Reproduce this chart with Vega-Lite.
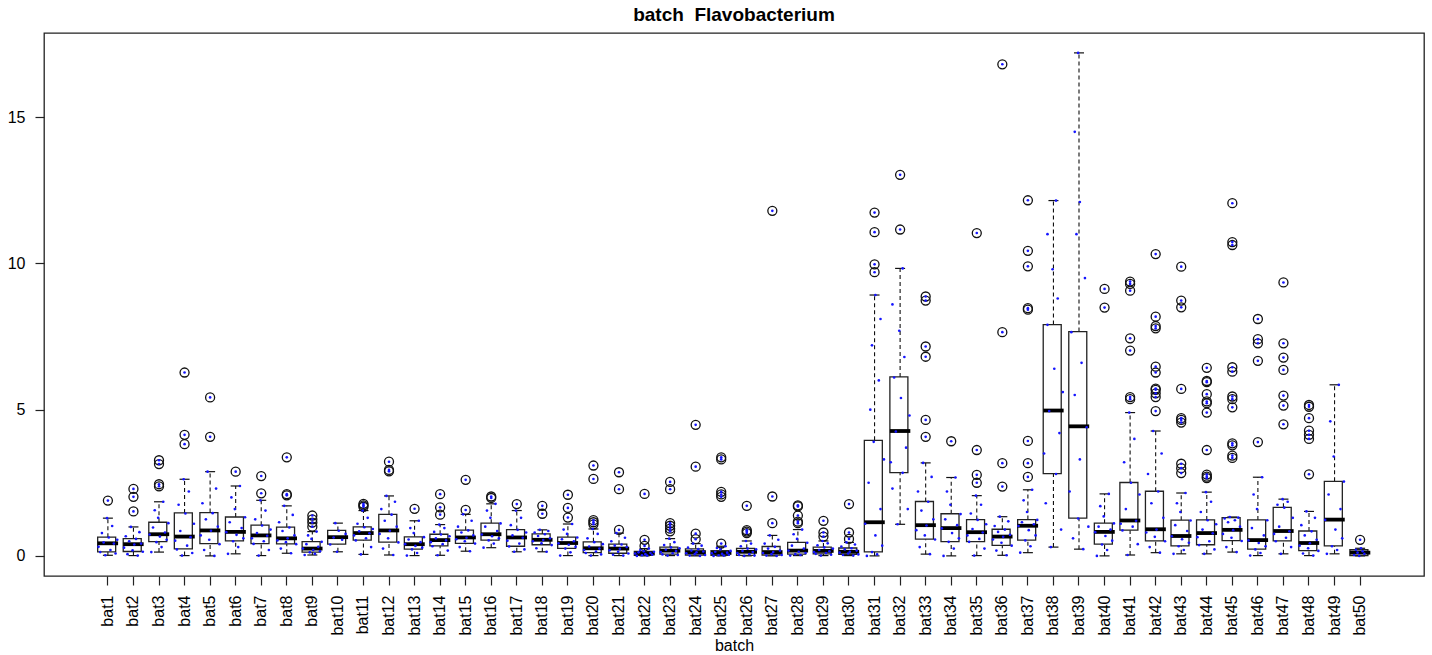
{
  "$schema": "https://vega.github.io/schema/vega-lite/v6.json",
  "width": 1380,
  "height": 543,
  "autosize": "none",
  "padding": {"left": 44, "top": 33, "right": 8, "bottom": 79},
  "background": "white",
  "title": {
    "text": "batch \u00a0Flavobacterium",
    "fontSize": 19,
    "fontWeight": "bold",
    "font": "Liberation Sans",
    "color": "black",
    "anchor": "middle",
    "frame": "group",
    "offset": 8
  },
  "config": {
    "font": "Liberation Sans",
    "view": {"stroke": "#222222", "strokeWidth": 1.3},
    "axis": {
      "domain": false,
      "grid": false,
      "tickColor": "#222222",
      "tickWidth": 1.2,
      "tickSize": 9,
      "labelColor": "black",
      "labelFont": "Liberation Sans",
      "labelFontSize": 16,
      "labelPadding": 10,
      "titleFont": "Liberation Sans",
      "titleFontSize": 16,
      "titleFontWeight": "normal",
      "titleColor": "black"
    },
    "axisX": {"labelAngle": 270, "labelAlign": "right", "labelBaseline": "middle", "labelOverlap": false, "titlePadding": 2},
    "axisY": {"labelAngle": 0}
  },
  "datasets": {
    "boxes": [
      {"b":"bat1","lo":0.02,"q1":0.14,"med":0.43,"q3":0.64,"hi":1.29},
      {"b":"bat2","lo":0.01,"q1":0.15,"med":0.40,"q3":0.59,"hi":0.99},
      {"b":"bat3","lo":0.13,"q1":0.49,"med":0.74,"q3":1.15,"hi":1.85},
      {"b":"bat4","lo":0.01,"q1":0.24,"med":0.66,"q3":1.47,"hi":2.62},
      {"b":"bat5","lo":0.0,"q1":0.42,"med":0.87,"q3":1.48,"hi":2.88},
      {"b":"bat6","lo":0.07,"q1":0.51,"med":0.82,"q3":1.33,"hi":2.39},
      {"b":"bat7","lo":0.01,"q1":0.42,"med":0.70,"q3":1.05,"hi":1.90},
      {"b":"bat8","lo":0.09,"q1":0.41,"med":0.60,"q3":0.98,"hi":1.71},
      {"b":"bat9","lo":0.03,"q1":0.13,"med":0.25,"q3":0.49,"hi":0.83},
      {"b":"bat10","lo":0.14,"q1":0.40,"med":0.64,"q3":0.87,"hi":1.12},
      {"b":"bat11","lo":0.05,"q1":0.54,"med":0.78,"q3":0.99,"hi":1.55},
      {"b":"bat12","lo":0.03,"q1":0.47,"med":0.87,"q3":1.42,"hi":2.05},
      {"b":"bat13","lo":0.01,"q1":0.23,"med":0.40,"q3":0.65,"hi":1.20},
      {"b":"bat14","lo":0.02,"q1":0.34,"med":0.54,"q3":0.74,"hi":1.07},
      {"b":"bat15","lo":0.16,"q1":0.43,"med":0.63,"q3":0.88,"hi":1.42},
      {"b":"bat16","lo":0.28,"q1":0.54,"med":0.74,"q3":1.12,"hi":1.78},
      {"b":"bat17","lo":0.14,"q1":0.33,"med":0.63,"q3":0.90,"hi":1.55},
      {"b":"bat18","lo":0.14,"q1":0.38,"med":0.55,"q3":0.75,"hi":0.89},
      {"b":"bat19","lo":0.01,"q1":0.26,"med":0.44,"q3":0.64,"hi":1.09},
      {"b":"bat20","lo":0.01,"q1":0.11,"med":0.26,"q3":0.48,"hi":0.92},
      {"b":"bat21","lo":0.01,"q1":0.09,"med":0.25,"q3":0.40,"hi":0.78},
      {"b":"bat22","lo":0.0,"q1":0.02,"med":0.08,"q3":0.15,"hi":0.25},
      {"b":"bat23","lo":0.01,"q1":0.06,"med":0.18,"q3":0.30,"hi":0.59},
      {"b":"bat24","lo":0.0,"q1":0.03,"med":0.13,"q3":0.24,"hi":0.42},
      {"b":"bat25","lo":0.0,"q1":0.02,"med":0.10,"q3":0.18,"hi":0.33},
      {"b":"bat26","lo":0.0,"q1":0.02,"med":0.14,"q3":0.26,"hi":0.51},
      {"b":"bat27","lo":0.0,"q1":0.03,"med":0.13,"q3":0.32,"hi":0.70},
      {"b":"bat28","lo":0.01,"q1":0.06,"med":0.18,"q3":0.46,"hi":0.90},
      {"b":"bat29","lo":0.01,"q1":0.07,"med":0.17,"q3":0.30,"hi":0.51},
      {"b":"bat30","lo":0.01,"q1":0.05,"med":0.14,"q3":0.27,"hi":0.46},
      {"b":"bat31","lo":0.0,"q1":0.14,"med":1.15,"q3":3.95,"hi":8.92},
      {"b":"bat32","lo":1.08,"q1":2.85,"med":4.27,"q3":6.12,"hi":9.83},
      {"b":"bat33","lo":0.06,"q1":0.57,"med":1.05,"q3":1.86,"hi":3.18},
      {"b":"bat34","lo":0.0,"q1":0.49,"med":0.95,"q3":1.44,"hi":2.68},
      {"b":"bat35","lo":0.01,"q1":0.49,"med":0.81,"q3":1.24,"hi":2.06},
      {"b":"bat36","lo":0.02,"q1":0.36,"med":0.66,"q3":0.91,"hi":1.34},
      {"b":"bat37","lo":0.11,"q1":0.54,"med":1.03,"q3":1.24,"hi":2.26},
      {"b":"bat38","lo":0.30,"q1":2.81,"med":4.97,"q3":7.91,"hi":12.15},
      {"b":"bat39","lo":0.23,"q1":1.29,"med":4.43,"q3":7.67,"hi":17.20},
      {"b":"bat40","lo":0.0,"q1":0.40,"med":0.82,"q3":1.12,"hi":2.12},
      {"b":"bat41","lo":0.03,"q1":0.88,"med":1.21,"q3":2.51,"hi":4.90},
      {"b":"bat42","lo":0.11,"q1":0.51,"med":0.91,"q3":2.21,"hi":4.27},
      {"b":"bat43","lo":0.07,"q1":0.34,"med":0.68,"q3":1.22,"hi":2.15},
      {"b":"bat44","lo":0.07,"q1":0.38,"med":0.78,"q3":1.23,"hi":2.18},
      {"b":"bat45","lo":0.13,"q1":0.52,"med":0.89,"q3":1.31,"hi":1.33},
      {"b":"bat46","lo":0.01,"q1":0.23,"med":0.54,"q3":1.23,"hi":2.69},
      {"b":"bat47","lo":0.07,"q1":0.51,"med":0.85,"q3":1.66,"hi":1.94},
      {"b":"bat48","lo":0.01,"q1":0.18,"med":0.44,"q3":0.85,"hi":1.52},
      {"b":"bat49","lo":0.07,"q1":0.34,"med":1.24,"q3":2.55,"hi":5.85},
      {"b":"bat50","lo":0.0,"q1":0.01,"med":0.11,"q3":0.21,"hi":0.26}
    ],
    "outliers": [
      {"b":"bat1","v":1.89},
      {"b":"bat2","v":1.52},{"b":"bat2","v":2.02},{"b":"bat2","v":2.29},
      {"b":"bat3","v":2.38},{"b":"bat3","v":2.45},{"b":"bat3","v":3.14},{"b":"bat3","v":3.27},
      {"b":"bat4","v":3.82},{"b":"bat4","v":4.14},{"b":"bat4","v":6.27},
      {"b":"bat5","v":4.07},{"b":"bat5","v":5.42},
      {"b":"bat6","v":2.88},
      {"b":"bat7","v":2.14},{"b":"bat7","v":2.73},
      {"b":"bat8","v":2.07},{"b":"bat8","v":2.11},{"b":"bat8","v":3.37},
      {"b":"bat9","v":1.0},{"b":"bat9","v":1.14},{"b":"bat9","v":1.25},{"b":"bat9","v":1.38},
      {"b":"bat11","v":1.68},{"b":"bat11","v":1.73},{"b":"bat11","v":1.78},
      {"b":"bat12","v":2.89},{"b":"bat12","v":2.94},{"b":"bat12","v":3.22},
      {"b":"bat13","v":1.61},
      {"b":"bat14","v":1.41},{"b":"bat14","v":1.66},{"b":"bat14","v":2.11},
      {"b":"bat15","v":1.57},{"b":"bat15","v":2.60},
      {"b":"bat16","v":1.98},{"b":"bat16","v":2.03},
      {"b":"bat17","v":1.77},
      {"b":"bat18","v":1.44},{"b":"bat18","v":1.71},
      {"b":"bat19","v":1.31},{"b":"bat19","v":1.64},{"b":"bat19","v":2.09},
      {"b":"bat20","v":1.08},{"b":"bat20","v":1.15},{"b":"bat20","v":1.22},{"b":"bat20","v":2.63},{"b":"bat20","v":3.09},
      {"b":"bat21","v":0.89},{"b":"bat21","v":2.28},{"b":"bat21","v":2.86},
      {"b":"bat22","v":0.34},{"b":"bat22","v":0.55},{"b":"bat22","v":2.12},
      {"b":"bat23","v":0.84},{"b":"bat23","v":0.93},{"b":"bat23","v":1.03},{"b":"bat23","v":1.12},{"b":"bat23","v":2.28},{"b":"bat23","v":2.53},
      {"b":"bat24","v":0.57},{"b":"bat24","v":0.76},{"b":"bat24","v":3.05},{"b":"bat24","v":4.48},
      {"b":"bat25","v":0.42},{"b":"bat25","v":2.02},{"b":"bat25","v":2.10},{"b":"bat25","v":2.19},{"b":"bat25","v":3.30},{"b":"bat25","v":3.37},
      {"b":"bat26","v":0.78},{"b":"bat26","v":0.83},{"b":"bat26","v":0.88},{"b":"bat26","v":1.71},
      {"b":"bat27","v":1.12},{"b":"bat27","v":2.03},{"b":"bat27","v":11.8},
      {"b":"bat28","v":1.12},{"b":"bat28","v":1.17},{"b":"bat28","v":1.38},{"b":"bat28","v":1.69},{"b":"bat28","v":1.73},
      {"b":"bat29","v":0.66},{"b":"bat29","v":0.80},{"b":"bat29","v":1.20},
      {"b":"bat30","v":0.58},{"b":"bat30","v":0.80},{"b":"bat30","v":1.77},
      {"b":"bat31","v":9.70},{"b":"bat31","v":9.97},{"b":"bat31","v":11.07},{"b":"bat31","v":11.74},
      {"b":"bat32","v":11.16},{"b":"bat32","v":13.03},
      {"b":"bat33","v":4.07},{"b":"bat33","v":4.65},{"b":"bat33","v":6.81},{"b":"bat33","v":7.16},{"b":"bat33","v":8.73},{"b":"bat33","v":8.87},
      {"b":"bat34","v":3.92},
      {"b":"bat35","v":2.50},{"b":"bat35","v":2.77},{"b":"bat35","v":3.62},{"b":"bat35","v":11.04},
      {"b":"bat36","v":2.37},{"b":"bat36","v":3.17},{"b":"bat36","v":7.65},{"b":"bat36","v":16.81},
      {"b":"bat37","v":2.70},{"b":"bat37","v":3.17},{"b":"bat37","v":3.93},{"b":"bat37","v":8.42},{"b":"bat37","v":8.47},{"b":"bat37","v":9.90},{"b":"bat37","v":10.43},{"b":"bat37","v":12.16},
      {"b":"bat40","v":8.49},{"b":"bat40","v":9.13},
      {"b":"bat41","v":5.36},{"b":"bat41","v":5.43},{"b":"bat41","v":7.02},{"b":"bat41","v":7.44},{"b":"bat41","v":9.07},{"b":"bat41","v":9.30},{"b":"bat41","v":9.38},
      {"b":"bat42","v":4.95},{"b":"bat42","v":5.43},{"b":"bat42","v":5.56},{"b":"bat42","v":5.68},{"b":"bat42","v":5.72},{"b":"bat42","v":6.27},{"b":"bat42","v":6.47},{"b":"bat42","v":7.78},{"b":"bat42","v":7.86},{"b":"bat42","v":8.18},{"b":"bat42","v":10.32},
      {"b":"bat43","v":2.83},{"b":"bat43","v":3.00},{"b":"bat43","v":3.15},{"b":"bat43","v":4.56},{"b":"bat43","v":4.65},{"b":"bat43","v":4.71},{"b":"bat43","v":5.71},{"b":"bat43","v":8.50},{"b":"bat43","v":8.73},{"b":"bat43","v":9.89},
      {"b":"bat44","v":2.66},{"b":"bat44","v":2.71},{"b":"bat44","v":2.78},{"b":"bat44","v":3.62},{"b":"bat44","v":4.90},{"b":"bat44","v":5.22},{"b":"bat44","v":5.28},{"b":"bat44","v":5.53},{"b":"bat44","v":5.94},{"b":"bat44","v":5.98},{"b":"bat44","v":6.43},
      {"b":"bat45","v":3.35},{"b":"bat45","v":3.43},{"b":"bat45","v":3.78},{"b":"bat45","v":3.85},{"b":"bat45","v":5.08},{"b":"bat45","v":5.36},{"b":"bat45","v":5.45},{"b":"bat45","v":6.30},{"b":"bat45","v":6.45},{"b":"bat45","v":10.63},{"b":"bat45","v":10.73},{"b":"bat45","v":12.06},
      {"b":"bat46","v":3.89},{"b":"bat46","v":6.67},{"b":"bat46","v":7.27},{"b":"bat46","v":7.41},{"b":"bat46","v":8.10},
      {"b":"bat47","v":4.50},{"b":"bat47","v":5.14},{"b":"bat47","v":5.48},{"b":"bat47","v":6.36},{"b":"bat47","v":6.78},{"b":"bat47","v":7.27},{"b":"bat47","v":9.35},
      {"b":"bat48","v":2.79},{"b":"bat48","v":4.00},{"b":"bat48","v":4.14},{"b":"bat48","v":4.28},{"b":"bat48","v":4.71},{"b":"bat48","v":5.10},{"b":"bat48","v":5.16},
      {"b":"bat50","v":0.55}
    ],
    "dots": [
      {"b":"bat1","v":0.02,"j":5},{"b":"bat1","v":0.08,"j":11},{"b":"bat1","v":0.13,"j":2},{"b":"bat1","v":0.2,"j":8},{"b":"bat1","v":0.31,"j":1},{"b":"bat1","v":0.42,"j":10},{"b":"bat1","v":0.46,"j":4},{"b":"bat1","v":0.55,"j":12},{"b":"bat1","v":0.63,"j":7},{"b":"bat1","v":0.78,"j":3},{"b":"bat1","v":1.02,"j":9},{"b":"bat1","v":1.29,"j":6},
      {"b":"bat2","v":0.01,"j":9},{"b":"bat2","v":0.06,"j":3},{"b":"bat2","v":0.14,"j":12},{"b":"bat2","v":0.19,"j":6},{"b":"bat2","v":0.28,"j":1},{"b":"bat2","v":0.39,"j":7},{"b":"bat2","v":0.42,"j":11},{"b":"bat2","v":0.5,"j":4},{"b":"bat2","v":0.58,"j":8},{"b":"bat2","v":0.67,"j":2},{"b":"bat2","v":0.81,"j":10},{"b":"bat2","v":0.99,"j":5},
      {"b":"bat3","v":0.13,"j":2},{"b":"bat3","v":0.3,"j":8},{"b":"bat3","v":0.47,"j":5},{"b":"bat3","v":0.55,"j":11},{"b":"bat3","v":0.66,"j":7},{"b":"bat3","v":0.73,"j":1},{"b":"bat3","v":0.8,"j":10},{"b":"bat3","v":0.97,"j":3},{"b":"bat3","v":1.12,"j":12},{"b":"bat3","v":1.3,"j":6},{"b":"bat3","v":1.56,"j":4},{"b":"bat3","v":1.85,"j":9},
      {"b":"bat4","v":0.01,"j":5},{"b":"bat4","v":0.1,"j":11},{"b":"bat4","v":0.22,"j":2},{"b":"bat4","v":0.35,"j":8},{"b":"bat4","v":0.52,"j":1},{"b":"bat4","v":0.64,"j":10},{"b":"bat4","v":0.85,"j":4},{"b":"bat4","v":1.1,"j":12},{"b":"bat4","v":1.45,"j":7},{"b":"bat4","v":1.75,"j":3},{"b":"bat4","v":2.2,"j":9},{"b":"bat4","v":2.62,"j":6},
      {"b":"bat5","v":0.0,"j":9},{"b":"bat5","v":0.2,"j":3},{"b":"bat5","v":0.4,"j":12},{"b":"bat5","v":0.55,"j":6},{"b":"bat5","v":0.7,"j":1},{"b":"bat5","v":0.86,"j":7},{"b":"bat5","v":1.0,"j":11},{"b":"bat5","v":1.25,"j":4},{"b":"bat5","v":1.46,"j":8},{"b":"bat5","v":1.8,"j":2},{"b":"bat5","v":2.3,"j":10},{"b":"bat5","v":2.88,"j":5},
      {"b":"bat6","v":0.07,"j":2},{"b":"bat6","v":0.3,"j":8},{"b":"bat6","v":0.5,"j":5},{"b":"bat6","v":0.6,"j":11},{"b":"bat6","v":0.72,"j":7},{"b":"bat6","v":0.81,"j":1},{"b":"bat6","v":0.95,"j":10},{"b":"bat6","v":1.15,"j":3},{"b":"bat6","v":1.32,"j":12},{"b":"bat6","v":1.6,"j":6},{"b":"bat6","v":2.0,"j":4},{"b":"bat6","v":2.39,"j":9},
      {"b":"bat7","v":0.01,"j":5},{"b":"bat7","v":0.2,"j":11},{"b":"bat7","v":0.41,"j":2},{"b":"bat7","v":0.5,"j":8},{"b":"bat7","v":0.6,"j":1},{"b":"bat7","v":0.69,"j":10},{"b":"bat7","v":0.78,"j":4},{"b":"bat7","v":0.9,"j":12},{"b":"bat7","v":1.04,"j":7},{"b":"bat7","v":1.25,"j":3},{"b":"bat7","v":1.55,"j":9},{"b":"bat7","v":1.9,"j":6},
      {"b":"bat8","v":0.09,"j":9},{"b":"bat8","v":0.25,"j":3},{"b":"bat8","v":0.4,"j":12},{"b":"bat8","v":0.47,"j":6},{"b":"bat8","v":0.53,"j":1},{"b":"bat8","v":0.6,"j":7},{"b":"bat8","v":0.7,"j":11},{"b":"bat8","v":0.85,"j":4},{"b":"bat8","v":0.97,"j":8},{"b":"bat8","v":1.15,"j":2},{"b":"bat8","v":1.4,"j":10},{"b":"bat8","v":1.71,"j":5},
      {"b":"bat9","v":0.03,"j":2},{"b":"bat9","v":0.07,"j":8},{"b":"bat9","v":0.12,"j":5},{"b":"bat9","v":0.16,"j":11},{"b":"bat9","v":0.2,"j":7},{"b":"bat9","v":0.25,"j":1},{"b":"bat9","v":0.31,"j":10},{"b":"bat9","v":0.4,"j":3},{"b":"bat9","v":0.48,"j":12},{"b":"bat9","v":0.58,"j":6},{"b":"bat9","v":0.7,"j":4},{"b":"bat9","v":0.83,"j":9},
      {"b":"bat10","v":0.14,"j":6},{"b":"bat10","v":0.39,"j":2},{"b":"bat10","v":0.55,"j":9},{"b":"bat10","v":0.63,"j":4},{"b":"bat10","v":0.75,"j":11},{"b":"bat10","v":0.86,"j":7},{"b":"bat10","v":1.12,"j":5},
      {"b":"bat11","v":0.05,"j":5},{"b":"bat11","v":0.3,"j":11},{"b":"bat11","v":0.53,"j":2},{"b":"bat11","v":0.6,"j":8},{"b":"bat11","v":0.7,"j":1},{"b":"bat11","v":0.77,"j":10},{"b":"bat11","v":0.84,"j":4},{"b":"bat11","v":0.92,"j":12},{"b":"bat11","v":0.98,"j":7},{"b":"bat11","v":1.1,"j":3},{"b":"bat11","v":1.3,"j":9},{"b":"bat11","v":1.55,"j":6},
      {"b":"bat12","v":0.03,"j":9},{"b":"bat12","v":0.25,"j":3},{"b":"bat12","v":0.46,"j":12},{"b":"bat12","v":0.6,"j":6},{"b":"bat12","v":0.75,"j":1},{"b":"bat12","v":0.86,"j":7},{"b":"bat12","v":1.0,"j":11},{"b":"bat12","v":1.2,"j":4},{"b":"bat12","v":1.41,"j":8},{"b":"bat12","v":1.6,"j":2},{"b":"bat12","v":1.85,"j":10},{"b":"bat12","v":2.05,"j":5},
      {"b":"bat13","v":0.01,"j":2},{"b":"bat13","v":0.1,"j":8},{"b":"bat13","v":0.22,"j":5},{"b":"bat13","v":0.28,"j":11},{"b":"bat13","v":0.34,"j":7},{"b":"bat13","v":0.4,"j":1},{"b":"bat13","v":0.47,"j":10},{"b":"bat13","v":0.56,"j":3},{"b":"bat13","v":0.64,"j":12},{"b":"bat13","v":0.78,"j":6},{"b":"bat13","v":0.95,"j":4},{"b":"bat13","v":1.2,"j":9},
      {"b":"bat14","v":0.02,"j":5},{"b":"bat14","v":0.18,"j":11},{"b":"bat14","v":0.33,"j":2},{"b":"bat14","v":0.4,"j":8},{"b":"bat14","v":0.47,"j":1},{"b":"bat14","v":0.53,"j":10},{"b":"bat14","v":0.6,"j":4},{"b":"bat14","v":0.67,"j":12},{"b":"bat14","v":0.73,"j":7},{"b":"bat14","v":0.82,"j":3},{"b":"bat14","v":0.95,"j":9},{"b":"bat14","v":1.07,"j":6},
      {"b":"bat15","v":0.16,"j":9},{"b":"bat15","v":0.3,"j":3},{"b":"bat15","v":0.42,"j":12},{"b":"bat15","v":0.5,"j":6},{"b":"bat15","v":0.57,"j":1},{"b":"bat15","v":0.62,"j":7},{"b":"bat15","v":0.7,"j":11},{"b":"bat15","v":0.8,"j":4},{"b":"bat15","v":0.87,"j":8},{"b":"bat15","v":1.0,"j":2},{"b":"bat15","v":1.2,"j":10},{"b":"bat15","v":1.42,"j":5},
      {"b":"bat16","v":0.28,"j":2},{"b":"bat16","v":0.42,"j":8},{"b":"bat16","v":0.53,"j":5},{"b":"bat16","v":0.6,"j":11},{"b":"bat16","v":0.67,"j":7},{"b":"bat16","v":0.73,"j":1},{"b":"bat16","v":0.85,"j":10},{"b":"bat16","v":1.0,"j":3},{"b":"bat16","v":1.11,"j":12},{"b":"bat16","v":1.3,"j":6},{"b":"bat16","v":1.55,"j":4},{"b":"bat16","v":1.78,"j":9},
      {"b":"bat17","v":0.14,"j":5},{"b":"bat17","v":0.22,"j":11},{"b":"bat17","v":0.32,"j":2},{"b":"bat17","v":0.42,"j":8},{"b":"bat17","v":0.52,"j":1},{"b":"bat17","v":0.62,"j":10},{"b":"bat17","v":0.7,"j":4},{"b":"bat17","v":0.8,"j":12},{"b":"bat17","v":0.89,"j":7},{"b":"bat17","v":1.05,"j":3},{"b":"bat17","v":1.3,"j":9},{"b":"bat17","v":1.55,"j":6},
      {"b":"bat18","v":0.14,"j":9},{"b":"bat18","v":0.26,"j":3},{"b":"bat18","v":0.37,"j":12},{"b":"bat18","v":0.43,"j":6},{"b":"bat18","v":0.5,"j":1},{"b":"bat18","v":0.54,"j":7},{"b":"bat18","v":0.6,"j":11},{"b":"bat18","v":0.68,"j":4},{"b":"bat18","v":0.74,"j":8},{"b":"bat18","v":0.8,"j":2},{"b":"bat18","v":0.85,"j":10},{"b":"bat18","v":0.89,"j":5},
      {"b":"bat19","v":0.01,"j":2},{"b":"bat19","v":0.12,"j":8},{"b":"bat19","v":0.25,"j":5},{"b":"bat19","v":0.31,"j":11},{"b":"bat19","v":0.38,"j":7},{"b":"bat19","v":0.43,"j":1},{"b":"bat19","v":0.5,"j":10},{"b":"bat19","v":0.57,"j":3},{"b":"bat19","v":0.63,"j":12},{"b":"bat19","v":0.75,"j":6},{"b":"bat19","v":0.9,"j":4},{"b":"bat19","v":1.09,"j":9},
      {"b":"bat20","v":0.01,"j":5},{"b":"bat20","v":0.05,"j":11},{"b":"bat20","v":0.1,"j":2},{"b":"bat20","v":0.15,"j":8},{"b":"bat20","v":0.2,"j":1},{"b":"bat20","v":0.25,"j":10},{"b":"bat20","v":0.32,"j":4},{"b":"bat20","v":0.4,"j":12},{"b":"bat20","v":0.47,"j":7},{"b":"bat20","v":0.6,"j":3},{"b":"bat20","v":0.75,"j":9},{"b":"bat20","v":0.92,"j":6},
      {"b":"bat21","v":0.01,"j":9},{"b":"bat21","v":0.04,"j":3},{"b":"bat21","v":0.08,"j":12},{"b":"bat21","v":0.14,"j":6},{"b":"bat21","v":0.19,"j":1},{"b":"bat21","v":0.24,"j":7},{"b":"bat21","v":0.3,"j":11},{"b":"bat21","v":0.35,"j":4},{"b":"bat21","v":0.39,"j":8},{"b":"bat21","v":0.5,"j":2},{"b":"bat21","v":0.62,"j":10},{"b":"bat21","v":0.78,"j":5},
      {"b":"bat22","v":0.0,"j":2},{"b":"bat22","v":0.01,"j":8},{"b":"bat22","v":0.02,"j":5},{"b":"bat22","v":0.04,"j":11},{"b":"bat22","v":0.06,"j":7},{"b":"bat22","v":0.08,"j":1},{"b":"bat22","v":0.1,"j":10},{"b":"bat22","v":0.12,"j":3},{"b":"bat22","v":0.14,"j":12},{"b":"bat22","v":0.16,"j":6},{"b":"bat22","v":0.2,"j":4},{"b":"bat22","v":0.25,"j":9},
      {"b":"bat23","v":0.01,"j":5},{"b":"bat23","v":0.03,"j":11},{"b":"bat23","v":0.05,"j":2},{"b":"bat23","v":0.09,"j":8},{"b":"bat23","v":0.13,"j":1},{"b":"bat23","v":0.17,"j":10},{"b":"bat23","v":0.21,"j":4},{"b":"bat23","v":0.26,"j":12},{"b":"bat23","v":0.29,"j":7},{"b":"bat23","v":0.37,"j":3},{"b":"bat23","v":0.47,"j":9},{"b":"bat23","v":0.59,"j":6},
      {"b":"bat24","v":0.0,"j":9},{"b":"bat24","v":0.01,"j":3},{"b":"bat24","v":0.03,"j":12},{"b":"bat24","v":0.06,"j":6},{"b":"bat24","v":0.09,"j":1},{"b":"bat24","v":0.12,"j":7},{"b":"bat24","v":0.15,"j":11},{"b":"bat24","v":0.18,"j":4},{"b":"bat24","v":0.23,"j":8},{"b":"bat24","v":0.28,"j":2},{"b":"bat24","v":0.35,"j":10},{"b":"bat24","v":0.42,"j":5},
      {"b":"bat25","v":0.0,"j":2},{"b":"bat25","v":0.01,"j":8},{"b":"bat25","v":0.02,"j":5},{"b":"bat25","v":0.04,"j":11},{"b":"bat25","v":0.07,"j":7},{"b":"bat25","v":0.09,"j":1},{"b":"bat25","v":0.11,"j":10},{"b":"bat25","v":0.14,"j":3},{"b":"bat25","v":0.17,"j":12},{"b":"bat25","v":0.22,"j":6},{"b":"bat25","v":0.27,"j":4},{"b":"bat25","v":0.33,"j":9},
      {"b":"bat26","v":0.0,"j":5},{"b":"bat26","v":0.01,"j":11},{"b":"bat26","v":0.03,"j":2},{"b":"bat26","v":0.06,"j":8},{"b":"bat26","v":0.1,"j":1},{"b":"bat26","v":0.13,"j":10},{"b":"bat26","v":0.17,"j":4},{"b":"bat26","v":0.22,"j":12},{"b":"bat26","v":0.25,"j":7},{"b":"bat26","v":0.33,"j":3},{"b":"bat26","v":0.42,"j":9},{"b":"bat26","v":0.51,"j":6},
      {"b":"bat27","v":0.0,"j":9},{"b":"bat27","v":0.01,"j":3},{"b":"bat27","v":0.03,"j":12},{"b":"bat27","v":0.06,"j":6},{"b":"bat27","v":0.1,"j":1},{"b":"bat27","v":0.13,"j":7},{"b":"bat27","v":0.18,"j":11},{"b":"bat27","v":0.25,"j":4},{"b":"bat27","v":0.31,"j":8},{"b":"bat27","v":0.42,"j":2},{"b":"bat27","v":0.55,"j":10},{"b":"bat27","v":0.7,"j":5},
      {"b":"bat28","v":0.01,"j":2},{"b":"bat28","v":0.03,"j":8},{"b":"bat28","v":0.06,"j":5},{"b":"bat28","v":0.1,"j":11},{"b":"bat28","v":0.14,"j":7},{"b":"bat28","v":0.18,"j":1},{"b":"bat28","v":0.25,"j":10},{"b":"bat28","v":0.35,"j":3},{"b":"bat28","v":0.45,"j":12},{"b":"bat28","v":0.58,"j":6},{"b":"bat28","v":0.74,"j":4},{"b":"bat28","v":0.9,"j":9},
      {"b":"bat29","v":0.01,"j":5},{"b":"bat29","v":0.04,"j":11},{"b":"bat29","v":0.07,"j":2},{"b":"bat29","v":0.1,"j":8},{"b":"bat29","v":0.13,"j":1},{"b":"bat29","v":0.16,"j":10},{"b":"bat29","v":0.2,"j":4},{"b":"bat29","v":0.25,"j":12},{"b":"bat29","v":0.29,"j":7},{"b":"bat29","v":0.36,"j":3},{"b":"bat29","v":0.43,"j":9},{"b":"bat29","v":0.51,"j":6},
      {"b":"bat30","v":0.01,"j":9},{"b":"bat30","v":0.03,"j":3},{"b":"bat30","v":0.05,"j":12},{"b":"bat30","v":0.08,"j":6},{"b":"bat30","v":0.11,"j":1},{"b":"bat30","v":0.14,"j":7},{"b":"bat30","v":0.18,"j":11},{"b":"bat30","v":0.22,"j":4},{"b":"bat30","v":0.26,"j":8},{"b":"bat30","v":0.32,"j":2},{"b":"bat30","v":0.39,"j":10},{"b":"bat30","v":0.46,"j":5},
      {"b":"bat31","v":0.0,"j":2},{"b":"bat31","v":0.05,"j":8},{"b":"bat31","v":0.13,"j":5},{"b":"bat31","v":0.35,"j":11},{"b":"bat31","v":0.7,"j":7},{"b":"bat31","v":1.1,"j":1},{"b":"bat31","v":1.6,"j":10},{"b":"bat31","v":2.5,"j":3},{"b":"bat31","v":3.3,"j":12},{"b":"bat31","v":3.9,"j":6},{"b":"bat31","v":5.0,"j":4},{"b":"bat31","v":6.0,"j":9},{"b":"bat31","v":7.2,"j":5},{"b":"bat31","v":8.1,"j":10},{"b":"bat31","v":8.92,"j":7},
      {"b":"bat32","v":1.08,"j":5},{"b":"bat32","v":1.6,"j":11},{"b":"bat32","v":2.3,"j":2},{"b":"bat32","v":2.84,"j":8},{"b":"bat32","v":3.2,"j":1},{"b":"bat32","v":3.7,"j":10},{"b":"bat32","v":4.25,"j":4},{"b":"bat32","v":4.8,"j":12},{"b":"bat32","v":5.4,"j":7},{"b":"bat32","v":6.1,"j":3},{"b":"bat32","v":6.8,"j":9},{"b":"bat32","v":7.7,"j":6},{"b":"bat32","v":8.6,"j":2},{"b":"bat32","v":9.83,"j":8},
      {"b":"bat33","v":0.06,"j":9},{"b":"bat33","v":0.3,"j":3},{"b":"bat33","v":0.56,"j":12},{"b":"bat33","v":0.7,"j":6},{"b":"bat33","v":0.88,"j":1},{"b":"bat33","v":1.04,"j":7},{"b":"bat33","v":1.25,"j":11},{"b":"bat33","v":1.55,"j":4},{"b":"bat33","v":1.85,"j":8},{"b":"bat33","v":2.2,"j":2},{"b":"bat33","v":2.7,"j":10},{"b":"bat33","v":3.18,"j":5},
      {"b":"bat34","v":0.0,"j":2},{"b":"bat34","v":0.25,"j":8},{"b":"bat34","v":0.48,"j":5},{"b":"bat34","v":0.6,"j":11},{"b":"bat34","v":0.78,"j":7},{"b":"bat34","v":0.94,"j":1},{"b":"bat34","v":1.05,"j":10},{"b":"bat34","v":1.25,"j":3},{"b":"bat34","v":1.43,"j":12},{"b":"bat34","v":1.75,"j":6},{"b":"bat34","v":2.2,"j":4},{"b":"bat34","v":2.68,"j":9},
      {"b":"bat35","v":0.01,"j":5},{"b":"bat35","v":0.25,"j":11},{"b":"bat35","v":0.48,"j":2},{"b":"bat35","v":0.58,"j":8},{"b":"bat35","v":0.7,"j":1},{"b":"bat35","v":0.8,"j":10},{"b":"bat35","v":0.92,"j":4},{"b":"bat35","v":1.08,"j":12},{"b":"bat35","v":1.23,"j":7},{"b":"bat35","v":1.45,"j":3},{"b":"bat35","v":1.75,"j":9},{"b":"bat35","v":2.06,"j":6},
      {"b":"bat36","v":0.02,"j":9},{"b":"bat36","v":0.18,"j":3},{"b":"bat36","v":0.35,"j":12},{"b":"bat36","v":0.45,"j":6},{"b":"bat36","v":0.56,"j":1},{"b":"bat36","v":0.65,"j":7},{"b":"bat36","v":0.72,"j":11},{"b":"bat36","v":0.82,"j":4},{"b":"bat36","v":0.9,"j":8},{"b":"bat36","v":1.02,"j":2},{"b":"bat36","v":1.18,"j":10},{"b":"bat36","v":1.34,"j":5},
      {"b":"bat37","v":0.11,"j":2},{"b":"bat37","v":0.33,"j":8},{"b":"bat37","v":0.53,"j":5},{"b":"bat37","v":0.7,"j":11},{"b":"bat37","v":0.88,"j":7},{"b":"bat37","v":1.02,"j":1},{"b":"bat37","v":1.08,"j":10},{"b":"bat37","v":1.15,"j":3},{"b":"bat37","v":1.23,"j":12},{"b":"bat37","v":1.5,"j":6},{"b":"bat37","v":1.9,"j":4},{"b":"bat37","v":2.26,"j":9},
      {"b":"bat38","v":0.3,"j":5},{"b":"bat38","v":0.9,"j":11},{"b":"bat38","v":1.8,"j":2},{"b":"bat38","v":2.8,"j":8},{"b":"bat38","v":3.5,"j":1},{"b":"bat38","v":4.2,"j":10},{"b":"bat38","v":4.95,"j":4},{"b":"bat38","v":5.6,"j":12},{"b":"bat38","v":6.4,"j":7},{"b":"bat38","v":7.9,"j":3},{"b":"bat38","v":8.8,"j":9},{"b":"bat38","v":9.8,"j":6},{"b":"bat38","v":11.0,"j":3},{"b":"bat38","v":12.15,"j":8},
      {"b":"bat39","v":0.23,"j":9},{"b":"bat39","v":0.6,"j":3},{"b":"bat39","v":1.0,"j":12},{"b":"bat39","v":1.28,"j":6},{"b":"bat39","v":2.2,"j":1},{"b":"bat39","v":3.3,"j":7},{"b":"bat39","v":4.4,"j":11},{"b":"bat39","v":5.5,"j":4},{"b":"bat39","v":6.6,"j":8},{"b":"bat39","v":7.65,"j":2},{"b":"bat39","v":9.5,"j":10},{"b":"bat39","v":11.0,"j":5},{"b":"bat39","v":12.1,"j":7},{"b":"bat39","v":14.5,"j":4},{"b":"bat39","v":17.2,"j":6},
      {"b":"bat40","v":0.0,"j":2},{"b":"bat40","v":0.2,"j":8},{"b":"bat40","v":0.39,"j":5},{"b":"bat40","v":0.52,"j":11},{"b":"bat40","v":0.68,"j":7},{"b":"bat40","v":0.81,"j":1},{"b":"bat40","v":0.9,"j":10},{"b":"bat40","v":1.0,"j":3},{"b":"bat40","v":1.11,"j":12},{"b":"bat40","v":1.35,"j":6},{"b":"bat40","v":1.7,"j":4},{"b":"bat40","v":2.12,"j":9},
      {"b":"bat41","v":0.03,"j":5},{"b":"bat41","v":0.4,"j":11},{"b":"bat41","v":0.87,"j":2},{"b":"bat41","v":1.0,"j":8},{"b":"bat41","v":1.1,"j":1},{"b":"bat41","v":1.2,"j":10},{"b":"bat41","v":1.6,"j":4},{"b":"bat41","v":2.1,"j":12},{"b":"bat41","v":2.5,"j":7},{"b":"bat41","v":3.2,"j":3},{"b":"bat41","v":4.0,"j":9},{"b":"bat41","v":4.9,"j":6},
      {"b":"bat42","v":0.11,"j":9},{"b":"bat42","v":0.3,"j":3},{"b":"bat42","v":0.5,"j":12},{"b":"bat42","v":0.65,"j":6},{"b":"bat42","v":0.8,"j":1},{"b":"bat42","v":0.9,"j":7},{"b":"bat42","v":1.3,"j":11},{"b":"bat42","v":1.8,"j":4},{"b":"bat42","v":2.2,"j":8},{"b":"bat42","v":2.8,"j":2},{"b":"bat42","v":3.5,"j":10},{"b":"bat42","v":4.27,"j":5},
      {"b":"bat43","v":0.07,"j":2},{"b":"bat43","v":0.2,"j":8},{"b":"bat43","v":0.33,"j":5},{"b":"bat43","v":0.45,"j":11},{"b":"bat43","v":0.57,"j":7},{"b":"bat43","v":0.67,"j":1},{"b":"bat43","v":0.85,"j":10},{"b":"bat43","v":1.05,"j":3},{"b":"bat43","v":1.21,"j":12},{"b":"bat43","v":1.5,"j":6},{"b":"bat43","v":1.8,"j":4},{"b":"bat43","v":2.15,"j":9},
      {"b":"bat44","v":0.07,"j":5},{"b":"bat44","v":0.22,"j":11},{"b":"bat44","v":0.37,"j":2},{"b":"bat44","v":0.5,"j":8},{"b":"bat44","v":0.64,"j":1},{"b":"bat44","v":0.77,"j":10},{"b":"bat44","v":0.9,"j":4},{"b":"bat44","v":1.08,"j":12},{"b":"bat44","v":1.22,"j":7},{"b":"bat44","v":1.5,"j":3},{"b":"bat44","v":1.85,"j":9},{"b":"bat44","v":2.18,"j":6},
      {"b":"bat45","v":0.13,"j":9},{"b":"bat45","v":0.3,"j":3},{"b":"bat45","v":0.51,"j":12},{"b":"bat45","v":0.62,"j":6},{"b":"bat45","v":0.75,"j":1},{"b":"bat45","v":0.88,"j":7},{"b":"bat45","v":1.0,"j":11},{"b":"bat45","v":1.15,"j":4},{"b":"bat45","v":1.22,"j":8},{"b":"bat45","v":1.28,"j":2},{"b":"bat45","v":1.31,"j":10},{"b":"bat45","v":1.33,"j":5},
      {"b":"bat46","v":0.01,"j":2},{"b":"bat46","v":0.1,"j":8},{"b":"bat46","v":0.22,"j":5},{"b":"bat46","v":0.33,"j":11},{"b":"bat46","v":0.44,"j":7},{"b":"bat46","v":0.53,"j":1},{"b":"bat46","v":0.7,"j":10},{"b":"bat46","v":0.95,"j":3},{"b":"bat46","v":1.22,"j":12},{"b":"bat46","v":1.6,"j":6},{"b":"bat46","v":2.1,"j":4},{"b":"bat46","v":2.69,"j":9},
      {"b":"bat47","v":0.07,"j":5},{"b":"bat47","v":0.3,"j":11},{"b":"bat47","v":0.5,"j":2},{"b":"bat47","v":0.62,"j":8},{"b":"bat47","v":0.75,"j":1},{"b":"bat47","v":0.84,"j":10},{"b":"bat47","v":1.0,"j":4},{"b":"bat47","v":1.3,"j":12},{"b":"bat47","v":1.65,"j":7},{"b":"bat47","v":1.75,"j":3},{"b":"bat47","v":1.85,"j":9},{"b":"bat47","v":1.94,"j":6},
      {"b":"bat48","v":0.01,"j":9},{"b":"bat48","v":0.08,"j":3},{"b":"bat48","v":0.17,"j":12},{"b":"bat48","v":0.26,"j":6},{"b":"bat48","v":0.35,"j":1},{"b":"bat48","v":0.43,"j":7},{"b":"bat48","v":0.55,"j":11},{"b":"bat48","v":0.7,"j":4},{"b":"bat48","v":0.84,"j":8},{"b":"bat48","v":1.05,"j":2},{"b":"bat48","v":1.3,"j":10},{"b":"bat48","v":1.52,"j":5},
      {"b":"bat49","v":0.07,"j":2},{"b":"bat49","v":0.2,"j":8},{"b":"bat49","v":0.33,"j":5},{"b":"bat49","v":0.6,"j":11},{"b":"bat49","v":0.9,"j":7},{"b":"bat49","v":1.23,"j":1},{"b":"bat49","v":1.6,"j":10},{"b":"bat49","v":2.1,"j":3},{"b":"bat49","v":2.54,"j":12},{"b":"bat49","v":3.4,"j":6},{"b":"bat49","v":4.6,"j":4},{"b":"bat49","v":5.85,"j":9},
      {"b":"bat50","v":0.0,"j":6},{"b":"bat50","v":0.03,"j":3},{"b":"bat50","v":0.07,"j":9},{"b":"bat50","v":0.11,"j":5},{"b":"bat50","v":0.16,"j":8},{"b":"bat50","v":0.21,"j":4},{"b":"bat50","v":0.26,"j":7}
    ]
  },
  "encoding": {
    "x": {
      "field": "b",
      "type": "nominal",
      "title": "batch",
      "scale": {
        "domain": ["bat1","bat2","bat3","bat4","bat5","bat6","bat7","bat8","bat9","bat10","bat11","bat12","bat13","bat14","bat15","bat16","bat17","bat18","bat19","bat20","bat21","bat22","bat23","bat24","bat25","bat26","bat27","bat28","bat29","bat30","bat31","bat32","bat33","bat34","bat35","bat36","bat37","bat38","bat39","bat40","bat41","bat42","bat43","bat44","bat45","bat46","bat47","bat48","bat49","bat50"],
        "range": [53.67, 1326.33],
        "paddingInner": 0.2,
        "paddingOuter": 0
      }
    }
  },
  "layer": [
    {
      "data": {"name": "boxes"},
      "mark": {"type": "rule", "color": "#111111", "strokeWidth": 1.1, "strokeDash": [4, 3], "opacity": 1},
      "encoding": {
        "y": {"field": "q3", "type": "quantitative", "title": null,
              "scale": {"domain": [-0.688, 17.88], "nice": false, "zero": false},
              "axis": {"values": [0, 5, 10, 15]}},
        "y2": {"field": "hi"}
      }
    },
    {
      "data": {"name": "boxes"},
      "mark": {"type": "rule", "color": "#111111", "strokeWidth": 1.1, "strokeDash": [4, 3], "opacity": 1},
      "encoding": {
        "y": {"field": "lo", "type": "quantitative", "title": null},
        "y2": {"field": "q1"}
      }
    },
    {
      "data": {"name": "boxes"},
      "mark": {"type": "tick", "orient": "horizontal", "size": 10, "thickness": 1.2, "color": "#111111", "opacity": 1},
      "encoding": {"y": {"field": "hi", "type": "quantitative", "title": null}}
    },
    {
      "data": {"name": "boxes"},
      "mark": {"type": "tick", "orient": "horizontal", "size": 10, "thickness": 1.2, "color": "#111111", "opacity": 1},
      "encoding": {"y": {"field": "lo", "type": "quantitative", "title": null}}
    },
    {
      "data": {"name": "boxes"},
      "mark": {"type": "bar", "fill": "white", "stroke": "#222222", "strokeWidth": 1.3, "opacity": 1},
      "encoding": {
        "y": {"field": "q1", "type": "quantitative", "title": null},
        "y2": {"field": "q3"}
      }
    },
    {
      "data": {"name": "boxes"},
      "mark": {"type": "tick", "orient": "horizontal", "size": 20.4, "thickness": 3.8, "color": "black", "opacity": 1},
      "encoding": {"y": {"field": "med", "type": "quantitative", "title": null}}
    },
    {
      "data": {"name": "outliers"},
      "mark": {"type": "point", "shape": "circle", "filled": false, "stroke": "#111111", "strokeWidth": 1.3, "size": 81, "opacity": 1},
      "encoding": {"y": {"field": "v", "type": "quantitative", "title": null}}
    },
    {
      "data": {"name": "dots"},
      "mark": {"type": "point", "shape": "circle", "filled": true, "color": "#1515ff", "size": 7, "opacity": 1},
      "encoding": {
        "y": {"field": "v", "type": "quantitative", "title": null},
        "xOffset": {"field": "j", "type": "nominal", "scale": {"domain": [1,2,3,4,5,6,7,8,9,10,11,12]}}
      }
    },
    {
      "data": {"name": "outliers"},
      "mark": {"type": "point", "shape": "circle", "filled": true, "color": "#1515ff", "size": 7, "opacity": 1},
      "encoding": {"y": {"field": "v", "type": "quantitative", "title": null}}
    }
  ]
}
